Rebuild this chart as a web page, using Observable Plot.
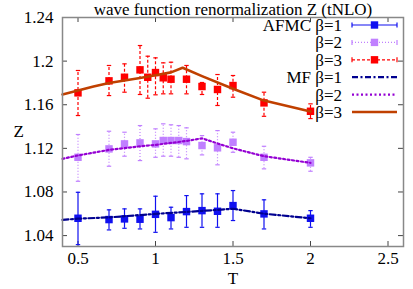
<!DOCTYPE html>
<html><head><meta charset="utf-8">
<script src="https://cdn.jsdelivr.net/npm/d3@7"></script>
<script src="https://cdn.jsdelivr.net/npm/@observablehq/plot@0.6"></script>
<style>body{margin:0;background:#fff;}</style>
</head><body><div id="chart"></div>
<script>
const title = "wave function renormalization Z (tNLO)";
const xLabel = "T";
const yLabel = "Z";
const xTicks = [0.5, 1, 1.5, 2, 2.5];
const xTickLabels = ["0.5", "1", "1.5", "2", "2.5"];
const yTicks = [1.04, 1.08, 1.12, 1.16, 1.2, 1.24];
const yTickLabels = ["1.04", "1.08", "1.12", "1.16", "1.2", "1.24"];

// AFMC beta=1
const T1 = [0.5, 0.7, 0.8, 0.9, 1.0, 1.1, 1.2, 1.3, 1.4, 1.5, 1.7, 2.0];
const z1 = [1.0559, 1.0547, 1.0553, 1.0550, 1.0595, 1.0565, 1.0620, 1.0629, 1.0623, 1.0675, 1.0599, 1.0559];
const hi1 = [1.0797, 1.0636, 1.0645, 1.0645, 1.0761, 1.0660, 1.0767, 1.0783, 1.0783, 1.0813, 1.0728, 1.0629];
const lo1 = [1.0317, 1.0452, 1.0467, 1.0461, 1.0430, 1.0461, 1.0476, 1.0476, 1.0476, 1.0538, 1.0461, 1.0476];
// AFMC beta=2
const T2 = [0.5, 0.7, 0.8, 0.9, 1.0, 1.05, 1.1, 1.15, 1.2, 1.3, 1.4, 1.5, 1.7, 2.0];
const z2 = [1.1118, 1.1195, 1.1241, 1.1250, 1.1241, 1.1272, 1.1272, 1.1272, 1.1262, 1.1226, 1.1205, 1.1256, 1.1118, 1.1067];
const hi2 = [1.1327, 1.1357, 1.1348, 1.1409, 1.1379, 1.1425, 1.1416, 1.1409, 1.1388, 1.1317, 1.1363, 1.1348, 1.1219, 1.1118];
const lo2 = [1.0898, 1.1036, 1.1128, 1.1088, 1.1118, 1.1128, 1.1128, 1.1118, 1.1104, 1.1140, 1.1049, 1.1164, 1.1012, 1.0990];
// AFMC beta=3
const T3 = [0.5, 0.7, 0.8, 0.9, 0.95, 1.0, 1.05, 1.1, 1.2, 1.3, 1.4, 1.5, 1.7, 2.0];
const z3 = [1.1709, 1.1819, 1.1852, 1.1920, 1.1852, 1.1895, 1.1847, 1.1834, 1.1834, 1.1767, 1.1740, 1.1776, 1.1617, 1.1540];
const hi3 = [1.1914, 1.1960, 1.1975, 1.2143, 1.2045, 1.2030, 1.1984, 1.1990, 1.1960, 1.1804, 1.1877, 1.1868, 1.1715, 1.1608];
const lo3 = [1.1501, 1.1684, 1.1715, 1.1694, 1.1660, 1.1691, 1.1700, 1.1700, 1.1700, 1.1694, 1.1593, 1.1669, 1.1494, 1.1473];

// MF curves
const mfT1 = [0.4, 0.5, 0.7, 1.0, 1.2, 1.4, 1.5, 1.7, 2.0];
const mf1 = [1.0544, 1.0555, 1.0567, 1.0599, 1.0617, 1.0636, 1.0646, 1.0601, 1.0559];
const mfT2 = [0.4, 0.5, 0.7, 0.9, 1.0, 1.1, 1.2, 1.3, 1.4, 1.5, 1.7, 2.0];
const mf2 = [1.1104, 1.1135, 1.1186, 1.1219, 1.1232, 1.1250, 1.1268, 1.1292, 1.1245, 1.1200, 1.1128, 1.1067];
const mfT3 = [0.4, 0.5, 0.6, 0.7, 0.8, 0.9, 1.0, 1.1, 1.175, 1.3, 1.5, 1.7, 2.0];
const mf3 = [1.1694, 1.1730, 1.1767, 1.1800, 1.1822, 1.1845, 1.1870, 1.1897, 1.1939, 1.1862, 1.1746, 1.1638, 1.1538];

const legendLabels = ["AFMC \u03b2=1", "\u03b2=2", "\u03b2=3", "MF \u03b2=1", "\u03b2=2", "\u03b2=3"];

const C1 = "#1010f0", C2 = "#c080ff", C3 = "#ff0000";
const M1 = "#000090", M2 = "#9400d3", M3 = "#c04000";
const dash = ["none", "1,2", "3,2"];
const mfDash = ["6,2.5,2,2.5", "2,2.5", "none"];

const rows = (T, z, lo, hi) => T.map((t, i) => ({T: t, z: z[i], lo: lo[i], hi: hi[i]}));
const afmc = [rows(T1, z1, lo1, hi1), rows(T2, z2, lo2, hi2), rows(T3, z3, lo3, hi3)];
const mf = [mfT1.map((t, i) => ({T: t, z: mf1[i]})), mfT2.map((t, i) => ({T: t, z: mf2[i]})), mfT3.map((t, i) => ({T: t, z: mf3[i]}))];
const afmcColors = [C1, C2, C3];
const mfColors = [M1, M2, M3];

const capSym = {draw(ctx, size) { const h = Math.sqrt(size / Math.PI); ctx.moveTo(-h, 0); ctx.lineTo(h, 0); }};

const W = 413, H = 289, mL = 62, mR = 10, mT = 17, mB = 43;
const pw = W - mL - mR, ph = H - mT - mB, tk = 5;

const marks = [];
afmc.forEach((d, k) => {
  marks.push(Plot.ruleX(d, {x: "T", y1: "lo", y2: "hi", stroke: afmcColors[k], strokeWidth: 1.2, strokeDasharray: dash[k]}));
  marks.push(Plot.dot(d, {x: "T", y: "lo", symbol: capSym, r: 2.2, stroke: afmcColors[k], strokeWidth: 1.2}));
  marks.push(Plot.dot(d, {x: "T", y: "hi", symbol: capSym, r: 2.2, stroke: afmcColors[k], strokeWidth: 1.2}));
  marks.push(Plot.dot(d, {x: "T", y: "z", symbol: "square", r: 4.2, fill: afmcColors[k], stroke: "none"}));
});
mf.forEach((d, k) => {
  marks.push(Plot.line(d, {x: "T", y: "z", stroke: mfColors[k], strokeWidth: k === 2 ? 2.6 : 2.2, strokeDasharray: mfDash[k]}));
});

const chart = Plot.plot({
  width: W, height: H, marginLeft: mL, marginRight: mR, marginTop: mT, marginBottom: mB,
  x: {domain: [0.4, 2.6]},
  y: {domain: [1.03, 1.24]},
  style: {fontFamily: "Liberation Serif, serif", fontSize: "17px", color: "#000", background: "#fff"},
  marks: [
    Plot.tickX(xTicks, {x: d => d, insetTop: ph - tk, stroke: "#444"}),
    Plot.tickX(xTicks, {x: d => d, insetBottom: ph - tk, stroke: "#444"}),
    Plot.tickY(yTicks, {y: d => d, insetRight: pw - tk, stroke: "#444"}),
    Plot.tickY(yTicks, {y: d => d, insetLeft: pw - tk, stroke: "#444"}),
    ...marks,
    Plot.frame({stroke: "#888", strokeWidth: 1.5}),
    Plot.axisX(xTicks, {tickSize: 0, tickPadding: 5, label: null, fontSize: 17, tickFormat: d => xTickLabels[xTicks.indexOf(d)]}),
    Plot.axisY(yTicks, {tickSize: 0, tickPadding: 9, label: null, fontSize: 17, tickFormat: d => yTickLabels[yTicks.indexOf(d)]}),
    Plot.text([title], {text: d => d, frameAnchor: "top", lineAnchor: "middle", dy: -8, fontSize: 17}),
    Plot.text([xLabel], {text: d => d, frameAnchor: "bottom", lineAnchor: "middle", dy: 32, fontSize: 17}),
    Plot.text([yLabel], {text: d => d, frameAnchor: "left", lineAnchor: "middle", dx: -49, fontSize: 17})
  ]
});
document.getElementById("chart").appendChild(chart);

// legend
const svg = d3.select(chart);
const g = svg.append("g").attr("font-family", "Liberation Serif, serif").attr("font-size", 17);
const lx1 = 352, lx2 = 397, lxm = 374.5, ltx = 342, ly0 = 25, lstep = 17.4;
legendLabels.forEach((lab, i) => {
  const y = ly0 + i * lstep;
  g.append("text").attr("x", ltx).attr("y", y).attr("dy", "0.35em").attr("text-anchor", "end").text(lab);
  if (i < 3) {
    const c = afmcColors[i];
    g.append("line").attr("x1", lx1).attr("x2", lx2).attr("y1", y).attr("y2", y).attr("stroke", c).attr("stroke-width", 1.2).attr("stroke-dasharray", dash[i]);
    [lx1, lx2].forEach(x => g.append("line").attr("x1", x).attr("x2", x).attr("y1", y - 2.5).attr("y2", y + 2.5).attr("stroke", c).attr("stroke-width", 1.2));
    g.append("rect").attr("x", lxm - 3.7).attr("y", y - 3.7).attr("width", 7.4).attr("height", 7.4).attr("fill", c);
  } else {
    const k = i - 3;
    g.append("line").attr("x1", lx1).attr("x2", lx2).attr("y1", y).attr("y2", y).attr("stroke", mfColors[k]).attr("stroke-width", k === 2 ? 2.6 : 2.2).attr("stroke-dasharray", mfDash[k]);
  }
});
</script>
</body></html>
